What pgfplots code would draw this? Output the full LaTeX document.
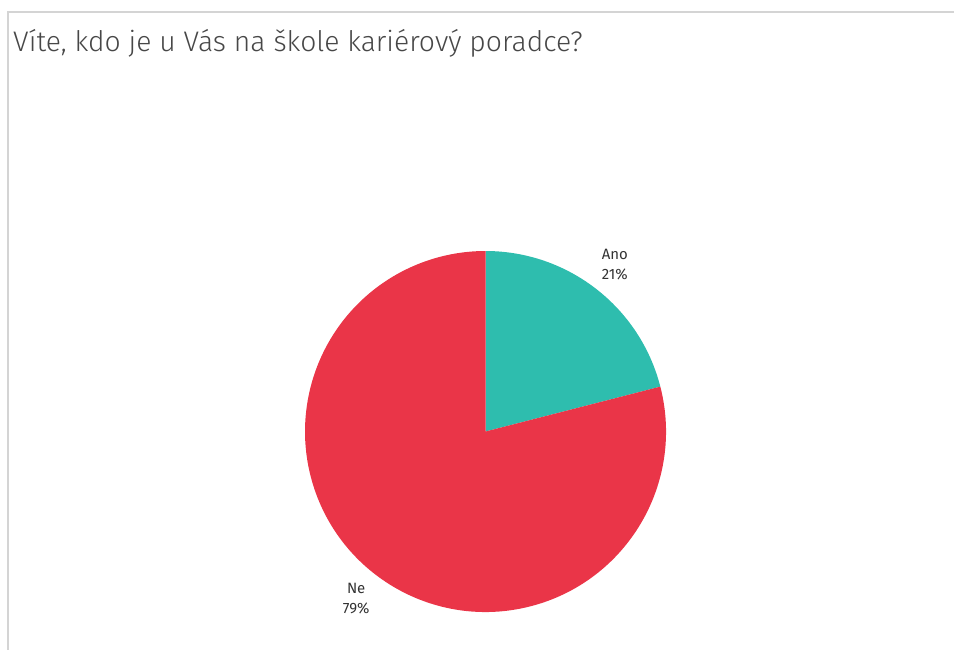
\documentclass[border=0pt]{standalone}
\usepackage{pgfplots}
\usepackage{pgfplotstable}
\pgfplotsset{compat=1.18}
\usetikzlibrary{calc}
\usepackage{fontspec}
\setmainfont{Fira Sans}
\newfontfamily\titlefont{Fira Sans}[UprightFont={* Light}]

\definecolor{anoteal}{HTML}{2EBDAE}
\definecolor{nered}{HTML}{EA3548}
\definecolor{framegray}{HTML}{D4D4D4}
\definecolor{labelgray}{HTML}{333333}

% share of answers, percent
\pgfplotstableread{
label value
Ano 21
Ne 79
}\piedata

\begin{document}
\begin{tikzpicture}
\path[use as bounding box] (0,0) rectangle (954bp,-650bp);
\draw[framegray, line width=2bp] (8bp,-650bp) -- (8bp,-12bp) -- (954bp,-12bp);
\node[anchor=base west, inner sep=0pt, text=black!72] at (13bp,-51bp)
  {\titlefont\fontsize{28.4}{34}\selectfont Víte, kdo je u Vás na škole kariérový poradce?};

\pgfplotstablegetelem{0}{value}\of\piedata \let\vA\pgfplotsretval
\pgfplotstablegetelem{1}{value}\of\piedata \let\vB\pgfplotsretval
\pgfmathsetmacro{\aStart}{90}
\pgfmathsetmacro{\aMid}{90-\vA*1.8}
\pgfmathsetmacro{\aEnd}{90-\vA*3.6}
\pgfmathsetmacro{\bMid}{\aEnd-\vB*1.8}
\pgfmathsetmacro{\bEnd}{\aEnd-\vB*3.6}

\begin{axis}[
  at={(485.5bp,-431.5bp)}, anchor=center,
  width=361bp, height=361bp, scale only axis,
  xmin=-1, xmax=1, ymin=-1, ymax=1,
  hide axis, clip=false,
]
\fill[anoteal] (axis cs:0,0) -- ++(\aStart:180.5bp) arc[start angle=\aStart, end angle=\aEnd, radius=180.5bp] -- cycle;
\fill[nered] (axis cs:0,0) -- ++(\aEnd:180.5bp) arc[start angle=\aEnd, end angle=\bEnd, radius=180.5bp] -- cycle;
\node[align=center, text=labelgray, font=\fontsize{15}{20}\selectfont] at ($(axis cs:0,0)+(\aMid:211bp)$) {Ano\\\vA\%};
\node[align=center, text=labelgray, font=\fontsize{15}{20}\selectfont] at ($(axis cs:0,0)+(\bMid:211bp)$) {Ne\\\vB\%};
\end{axis}
\end{tikzpicture}
\end{document}
